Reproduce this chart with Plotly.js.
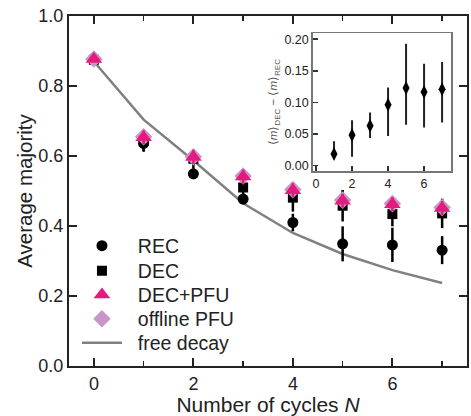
<!DOCTYPE html>
<html>
<head>
<meta charset="utf-8">
<script src="https://cdn.plot.ly/plotly-3.0.1.min.js"></script>
<style>html,body{margin:0;padding:0;background:#fff;}#chart{width:471px;height:416px;}</style>
</head>
<body>
<div id="chart"></div>
<script>
// ---- data ----
const cycles = [0, 1, 2, 3, 4, 5, 6, 7];
const recVals = [0.875, 0.636, 0.549, 0.477, 0.410, 0.349, 0.346, 0.331];
const recErr  = [0.008, 0.024, 0.015, 0.015, 0.025, 0.050, 0.049, 0.040];
const decVals = [0.875, 0.645, 0.592, 0.510, 0.481, 0.458, 0.434, 0.436];
const decErr  = [0.008, 0.030, 0.028, 0.030, 0.040, 0.045, 0.035, 0.042];
const pfuVals = [0.877, 0.653, 0.597, 0.541, 0.502, 0.472, 0.462, 0.451];
const pfuErr  = [0.008, 0.020, 0.020, 0.020, 0.020, 0.020, 0.020, 0.020];
const offVals = [0.877, 0.655, 0.598, 0.543, 0.504, 0.474, 0.464, 0.453];
const freeDecay = [0.870, 0.704, 0.587, 0.465, 0.380, 0.320, 0.274, 0.237];

const diffCycles = [1, 2, 3, 4, 5, 6, 7];
const diffVals = [0.0185, 0.0485, 0.0632, 0.0964, 0.123, 0.1164, 0.1207];
const diffErrPlus = [0.020, 0.0232, 0.0211, 0.0274, 0.0697, 0.0446, 0.0433];
const diffErrMinus = [0.008, 0.0343, 0.0195, 0.0494, 0.0582, 0.0558, 0.0522];

const xTickVals = [0, 2, 4, 6];
const xTickText = ['0', '2', '4', '6'];
const yTickVals = [0, 0.2, 0.4, 0.6, 0.8, 1.0];
const yTickText = ['0.0', '0.2', '0.4', '0.6', '0.8', '1.0'];
const insetYTickVals = [0, 0.05, 0.10, 0.15, 0.20];
const insetYTickText = ['0.00', '0.05', '0.10', '0.15', '0.20'];

const FONT = 'Liberation Sans, Arial, sans-serif';
const PINK = '#e31b7d';
const LILAC = '#c995c8';
const GRAY = '#808080';
const PAD = '\u00a0\u00a0';

const traces = [
  {x: cycles, y: freeDecay, mode: 'lines', name: PAD + 'free decay', legend: 'legend5',
   line: {color: GRAY, width: 2.5}, xaxis: 'x', yaxis: 'y'},
  {x: cycles, y: recVals, mode: 'markers', name: PAD + 'REC', legend: 'legend',
   marker: {symbol: 'circle', size: 11, color: '#000'},
   error_y: {type: 'data', array: recErr, color: '#000', thickness: 2.5, width: 0}},
  {x: cycles, y: decVals, mode: 'markers', name: PAD + 'DEC', legend: 'legend2',
   marker: {symbol: 'square', size: 10, color: '#000'},
   error_y: {type: 'data', array: decErr, color: '#000', thickness: 2.5, width: 0}},
  {x: cycles, y: offVals, mode: 'markers', name: PAD + 'offline PFU', legend: 'legend4',
   marker: {symbol: 'diamond', size: 13.5, color: LILAC}},
  {x: cycles, y: pfuVals, mode: 'markers', name: PAD + 'DEC+PFU', legend: 'legend3',
   marker: {symbol: 'triangle-up', size: 14.5, color: PINK},
   error_y: {type: 'data', array: pfuErr, color: PINK, thickness: 2.5, width: 0}},
  {x: diffCycles, y: diffVals, mode: 'markers', showlegend: false, xaxis: 'x2', yaxis: 'y2',
   marker: {symbol: 'diamond-tall', size: 10, color: '#000'},
   error_y: {type: 'data', symmetric: false, array: diffErrPlus, arrayminus: diffErrMinus,
             color: '#222', thickness: 2, width: 0}}
];

function legendAt(yPix) {
  return {x: 0.02, y: (366 - yPix) / 350, xanchor: 'left', yanchor: 'middle',
          bgcolor: 'rgba(0,0,0,0)', font: {family: FONT, size: 19.5, color: '#222'},
          itemwidth: 40};
}

const layout = {
  width: 471, height: 416,
  margin: {l: 69, r: 2, t: 16, b: 50},
  paper_bgcolor: '#fff', plot_bgcolor: '#fff',
  font: {family: FONT, size: 18, color: '#222'},
  showlegend: true,
  legend: legendAt(246),
  legend2: legendAt(271),
  legend3: legendAt(295),
  legend4: legendAt(319),
  legend5: legendAt(343),
  xaxis: {range: [-0.5, 7.5], tickvals: xTickVals, ticktext: xTickText,
          ticks: 'inside', ticklen: 8, tickwidth: 2, tickcolor: '#222',
          showline: true, linecolor: '#222', linewidth: 2, mirror: 'ticks',
          showgrid: false, zeroline: false,
          minor: {dtick: 1, tick0: 0, ticks: 'inside', ticklen: 5, tickwidth: 1.5, tickcolor: '#222', showgrid: false},
          tickfont: {size: 18, color: '#222'},
          title: {text: 'Number of cycles <i>N</i>', font: {size: 21, color: '#222'}, standoff: 2}},
  yaxis: {range: [0, 1.0], tickvals: yTickVals, ticktext: yTickText, automargin: true,
          ticks: 'inside', ticklen: 8, tickwidth: 2, tickcolor: '#222',
          showline: true, linecolor: '#222', linewidth: 2, mirror: 'ticks',
          showgrid: false, zeroline: false,
          tickfont: {size: 18, color: '#222'},
          title: {text: 'Average majority', font: {size: 20.5, color: '#222'}, standoff: 0}},
  xaxis2: {domain: [0.6125, 0.96], anchor: 'y2', range: [-0.18, 7.5],
           tickvals: xTickVals, ticktext: xTickText,
           ticks: 'inside', ticklen: 5, tickwidth: 1.5, tickcolor: '#333',
           showline: true, linecolor: '#777', linewidth: 1.5, mirror: true,
           showgrid: false, zeroline: false, tickfont: {size: 12.5, color: '#222'}},
  yaxis2: {domain: [0.557, 0.951], anchor: 'x2', range: [-0.0084, 0.2095], automargin: true,
           tickvals: insetYTickVals, ticktext: insetYTickText,
           ticks: 'inside', ticklen: 5, tickwidth: 1.5, tickcolor: '#333',
           showline: true, linecolor: '#777', linewidth: 1.5, mirror: true,
           showgrid: false, zeroline: false, tickfont: {size: 12.5, color: '#222'},
           title: {text: '⟨<i>m</i>⟩<sub>DEC</sub> − ⟨<i>m</i>⟩<sub>REC</sub>', font: {size: 11.5, color: '#555'}, standoff: 4}}
};

Plotly.newPlot('chart', traces, layout, {displayModeBar: false, staticPlot: true});
</script>
</body>
</html>
